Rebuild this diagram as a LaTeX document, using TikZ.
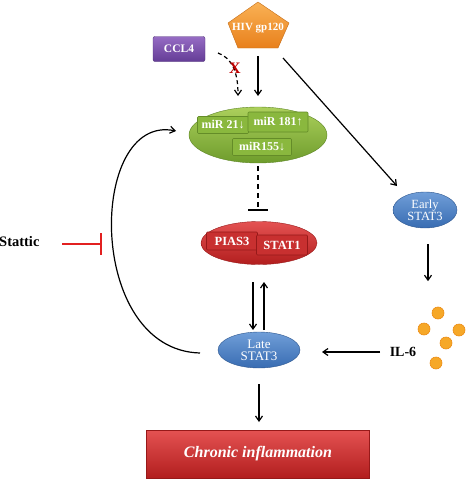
\documentclass[tikz,border=0pt]{standalone}
\usepackage{fontspec}
\setmainfont{Liberation Serif}
\usetikzlibrary{arrows.meta,shapes.geometric,shadings}
\definecolor{orgT}{RGB}{250,178,85}
\definecolor{orgB}{RGB}{232,128,28}
\definecolor{purT}{RGB}{150,108,196}
\definecolor{purB}{RGB}{100,60,150}
\definecolor{grnT}{RGB}{172,208,92}
\definecolor{grnB}{RGB}{110,156,44}
\definecolor{grnBox}{RGB}{138,184,62}
\definecolor{grnEdge}{RGB}{100,140,40}
\definecolor{redT}{RGB}{228,82,82}
\definecolor{redB}{RGB}{178,30,30}
\definecolor{redBox}{RGB}{200,48,48}
\definecolor{redEdge}{RGB}{150,25,25}
\definecolor{bluT}{RGB}{112,158,216}
\definecolor{bluB}{RGB}{56,108,178}
\definecolor{dotC}{RGB}{246,168,40}
\definecolor{dotE}{RGB}{236,140,20}
\definecolor{inhRed}{RGB}{226,32,32}
\begin{document}
\begin{tikzpicture}[x=1pt,y=-1pt,
  arr/.style={line width=1.2pt,-{Straight Barb[length=5pt,width=7pt,line width=1.2pt]}},
  wtxt/.style={text=white,font=\bfseries},
  grnbox/.style={draw=grnEdge,line width=0.6pt,fill=grnBox,rounded corners=1pt,inner sep=0pt,text=white,font=\bfseries\fontsize{12}{13}\selectfont},
  redbox/.style={draw=redEdge,line width=0.6pt,fill=redBox,rounded corners=1pt,inner sep=0pt,text=white,font=\bfseries\fontsize{12.5}{13}\selectfont},
  bluell/.style={ellipse,top color=bluT,bottom color=bluB,draw=bluB!80!black,line width=0.4pt,inner sep=0pt,text=white,align=center},
  dot/.style={circle,fill=dotC,draw=dotE,line width=0.6pt,minimum size=12pt,inner sep=0pt}
]
\useasboundingbox (0,0) rectangle (473,479);

% HIV gp120 pentagon
\shade[top color=orgT,bottom color=orgB,draw=orgB!85!black,line width=0.4pt]
  (258,2) -- (289,23) -- (278,48) -- (238,48) -- (228,23) -- cycle;
\node[wtxt,font=\bfseries\fontsize{11}{12}\selectfont] (hiv) at (258,28) {HIV gp120};
\coordinate (hivb) at (258,56);
\coordinate (hivr) at (283,58);

% CCL4
\node[draw=purB!80!black,line width=0.4pt,top color=purT,bottom color=purB,rounded corners=2pt,
  minimum width=52pt,minimum height=25pt,inner sep=0pt,text=white,font=\bfseries\fontsize{11.5}{12}\selectfont]
  (ccl) at (179,49) {CCL4};

% green ellipse
\node[ellipse,top color=grnT,bottom color=grnB,draw=grnB!85!black,line width=0.4pt,
  minimum width=138pt,minimum height=56pt,inner sep=0pt] (mir) at (258,135) {};
\node[grnbox,minimum width=51pt,minimum height=17pt] (m21) at (223,125) {miR 21↓};
\node[grnbox,minimum width=60pt,minimum height=20pt] (m181) at (278,122) {miR 181↑};
\node[grnbox,minimum width=59pt,minimum height=17pt] (m155) at (262,147) {miR155↓};

% red ellipse
\node[ellipse,top color=redT,bottom color=redB,draw=redB!85!black,line width=0.4pt,
  minimum width=116pt,minimum height=43pt,inner sep=0pt] (pias) at (259,243) {};
\node[redbox,minimum width=51pt,minimum height=18pt] (p3) at (232,241) {PIAS3};
\node[redbox,minimum width=51pt,minimum height=20pt] (s1) at (282,245) {STAT1};

% Late / Early STAT3
\node[bluell,minimum width=82pt,minimum height=36pt,font=\fontsize{13}{14}\selectfont] (late) at (259,350) {Late\\[-2pt]STAT3};
\node[bluell,minimum width=64pt,minimum height=36pt,font=\fontsize{12.5}{13.5}\selectfont] (early) at (425,210) {Early\\[-2pt]STAT3};

% Chronic inflammation
\node[top color=redT,bottom color=redB,draw=redB!85!black,line width=0.4pt,
  minimum width=223pt,minimum height=48pt,inner sep=0pt,text=white,font=\bfseries\itshape\fontsize{16}{17}\selectfont]
  (chr) at (258,454) {Chronic inflammation};

% IL-6 and dots
\node[font=\bfseries\fontsize{14}{15}\selectfont] (il6) at (403,352) {IL-6};
\node[dot] (d1) at (438,313) {};
\node[dot] (d2) at (424,329) {};
\node[dot] (d3) at (459,330) {};
\node[dot] (d4) at (446,343) {};
\node[dot] (d5) at (436,363) {};

% Stattic
\node[anchor=west,inner sep=0pt,font=\bfseries\fontsize{14.5}{15}\selectfont] (stat) at (-1,242) {Stattic};
\coordinate (stend) at (101,244);
\draw[inhRed,line width=1.2pt] (62,244) -- (stend);
\draw[inhRed,line width=1.3pt] (101,233) -- (101,255);

% arrows
\coordinate (cclr) at (218,53);
\draw[arr,dashed,dash pattern=on 4pt off 3pt] (cclr) .. controls (232,58) and (238,72) .. (238,96);
\node[text=red!75!black,font=\bfseries\fontsize{16}{17}\selectfont] (xx) at (235,68) {X};
\draw[arr] (hivb) -- (258,96);
\draw[arr] (hivr) -- (397,186);
\draw[arr] (early.south) ++(3,16) coordinate (e1) -- ++(0,37);

% inhibition dashed
\coordinate (mirb) at (258,166);
\coordinate (tbar) at (258,210);
\draw[line width=1.7pt,dash pattern=on 5pt off 4pt] (mirb) -- (tbar);
\draw[line width=1.7pt] (248,210) -- (268,210);

% PIAS3 <-> Late
\draw[arr] (253,282) -- (253,330);
\draw[arr] (264,330) -- (264,282);

% IL6 -> Late
\draw[arr] (il6.west) ++(-6,0) coordinate (ilw) -- (322,352);

% Late -> Chronic
\draw[arr] (259,384) -- (259,422);

% loop
\coordinate (lpS) at (200,353);
\draw[arr] (lpS) .. controls (85,350) and (88,113) .. (176,131);
\end{tikzpicture}
\end{document}
